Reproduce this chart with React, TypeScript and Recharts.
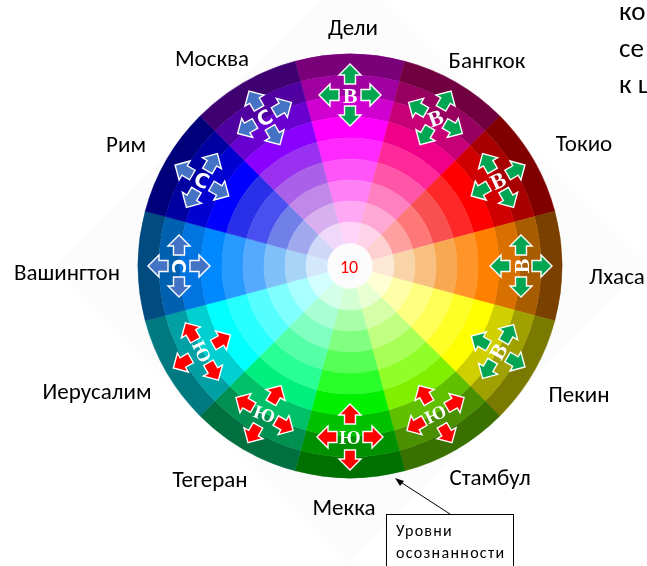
import { PieChart, Pie, Cell } from 'recharts'

const W = 647
const H = 566
const CX = 350
const CY = 266
const LABEL_FONT = "Carlito, Lato, 'Noto Sans', sans-serif"

// clockwise from the top
const cities = ['Дели', 'Бангкок', 'Токио', 'Лхаса', 'Пекин', 'Стамбул', 'Мекка', 'Тегеран', 'Иерусалим', 'Вашингтон', 'Рим', 'Москва']
const sectorShare = [1, 1, 1, 1, 1, 1, 1, 1, 1, 1, 1, 1]
const letters = ['В', 'В', 'В', 'В', 'В', 'Ю', 'Ю', 'Ю', 'Ю', 'С', 'С', 'С']
const levels = ['1', '2', '3', '4', '5', '6', '7', '8', '9']

// one row per sector, outer ring first
const delhi = ['#7a007a', '#a000a0', '#d000d0', '#ff00ff', '#ff28ff', '#ff55f8', '#ff80f4', '#ffa8f4', '#ffd4f8']
const bangkok = ['#700040', '#980060', '#c80078', '#f00088', '#ff2898', '#ff55a8', '#ff80c0', '#ffa8d4', '#ffd4e8']
const tokyo = ['#800000', '#a80000', '#d00000', '#ff0000', '#ff2828', '#f85050', '#ff7878', '#ffa0a0', '#ffd0d0']
const lhasa = ['#7a4000', '#a85c00', '#d87000', '#ff8000', '#ff9428', '#f8a850', '#f8c080', '#f8d4a8', '#fce8d4']
const beijing = ['#7a7a00', '#a0a000', '#d0d000', '#ffff00', '#ffff28', '#ffff55', '#ffff80', '#ffffa8', '#ffffd4']
const istanbul = ['#3a7000', '#4a9000', '#60c000', '#80f000', '#90ff28', '#a8ff55', '#c0ff80', '#d4ffa8', '#e8ffd4']
const mecca = ['#007000', '#009000', '#00c000', '#00f000', '#28ff28', '#55ff55', '#80ff80', '#a8ffa8', '#d4ffd4']
const tehran = ['#007040', '#009050', '#00c068', '#00f080', '#28ff94', '#55ffa8', '#80ffc0', '#a8ffd4', '#d4ffe8']
const jerusalem = ['#007a80', '#00a0a4', '#00d0d0', '#00ffff', '#28ffff', '#55ffff', '#80ffff', '#a8ffff', '#d4ffff']
const washington = ['#004c80', '#0060b0', '#0074e0', '#0088ff', '#2899ff', '#55aaff', '#80c0f8', '#a8d4f8', '#d4e8fc']
const rome = ['#00007a', '#0000a0', '#0000d0', '#0000ff', '#2a30e8', '#4a50f0', '#7080e8', '#a0a8ee', '#d0d8f8']
const moscow = ['#3f0070', '#5000a0', '#6800d0', '#8a00ff', '#9a30f0', '#aa60e8', '#c088e8', '#d8b0f0', '#f0d8fa']
const sectorColors = [delhi, bangkok, tokyo, lhasa, beijing, istanbul, mecca, tehran, jerusalem, washington, rome, moscow]

const letterTilt = [0, -20, -25, -90, -60, -25, 0, 20, 65, 90, 20, -30]
const arrowColor: Record<string, string> = { 'В': '#00a651', 'Ю': '#ff0000', 'С': '#4472c4' }

const cityPos = [
  [353, 27], [487, 60], [584, 143], [617, 276], [579, 394], [490, 477],
  [344, 507], [210, 479], [97, 391], [67, 272], [126, 144], [212, 58],
]
const levelPos = [
  [391, 463], [386, 443], [381, 424], [376, 400], [370, 383],
  [365, 363], [359, 341], [354, 320], [348, 301],
]

const wheelData = cities.map((name, i) => ({ name, share: sectorShare[i], letter: letters[i] }))
const RING_W = 21
const OUTER_R = 212

function ArrowCross(props: any) {
  const { cx, cy, midAngle, outerRadius, index } = props
  const rad = (midAngle * Math.PI) / 180
  const x = cx + outerRadius * Math.cos(rad)
  const y = cy - outerRadius * Math.sin(rad)
  const letter = letters[index]
  const extra = letter === 'Ю' ? 2 : 0
  return (
    <g>
      <g transform={`translate(${x},${y}) rotate(${90 - midAngle})`}>
        {[0, 90, 180, 270].map(r => (
          <path
            key={r}
            transform={`rotate(${r})`}
            d={`M-5.5,${-11 - extra} L5.5,${-11 - extra} L5.5,${-20 - extra} L11,${-20 - extra} L0,${-31 - extra} L-11,${-20 - extra} L-5.5,${-20 - extra} Z`}
            fill={arrowColor[letter]}
            stroke="#fff"
            strokeWidth={1.4}
          />
        ))}
      </g>
      <text
        transform={`translate(${x},${y}) rotate(${letterTilt[index]})`}
        textAnchor="middle"
        dominantBaseline="central"
        fontFamily={letter === 'С' ? "'DejaVu Sans', sans-serif" : "'Liberation Serif', serif"}
        fontWeight="bold"
        fontSize={letter === 'С' ? 20 : letter === 'Ю' ? 19 : 22}
        fill="#fff"
      >
        {letter}
      </text>
    </g>
  )
}

export default function App() {
  return (
    <div style={{ position: 'absolute', left: 0, top: 0, width: W, height: H, overflow: 'hidden', background: '#fff', filter: 'blur(0.35px)' }}>
      <PieChart width={W} height={H} margin={{ top: 0, right: 0, bottom: 0, left: 0 }}>
        {/* faint diamond left over behind the wheel */}
        <polygon points={`${CX},${CY - 297} ${CX + 297},${CY} ${CX},${CY + 297} ${CX - 297},${CY}`} fill="#fcfcfc" />

        {levels.map((lvl, ring) => (
          <Pie
            key={lvl}
            data={wheelData}
            dataKey="share"
            cx={CX}
            cy={CY}
            startAngle={105}
            endAngle={-255}
            innerRadius={OUTER_R - RING_W * (ring + 1)}
            outerRadius={OUTER_R - RING_W * ring}
            paddingAngle={0}
            isAnimationActive={false}
            label={false}
            labelLine={false}
          >
            {sectorColors.map((c, i) => (
              <Cell key={i} fill={c[ring]} stroke={c[ring]} strokeWidth={0.5} />
            ))}
          </Pie>
        ))}

        {/* invisible ring that only carries the arrow crosses */}
        <Pie
          data={wheelData}
          dataKey="share"
          cx={CX}
          cy={CY}
          startAngle={105}
          endAngle={-255}
          innerRadius={170}
          outerRadius={171}
          fill="none"
          stroke="none"
          isAnimationActive={false}
          labelLine={false}
          label={ArrowCross}
        />

        {cities.map((c, i) => (
          <text key={c} x={cityPos[i][0]} y={cityPos[i][1]} textAnchor="middle" dominantBaseline="central" fontFamily={LABEL_FONT} fontSize={23} fill="#000">
            {c}
          </text>
        ))}

        {levels.map((lvl, i) => (
          <text key={lvl} x={levelPos[i][0]} y={levelPos[i][1]} textAnchor="middle" dominantBaseline="central" fontFamily={LABEL_FONT} fontSize={18} fill="#f00">
            {lvl}
          </text>
        ))}
        <text x={349} y={267} textAnchor="middle" dominantBaseline="central" fontFamily={LABEL_FONT} fontSize={18} fill="#f00">10</text>

        <line x1={450} y1={514} x2={399} y2={481} stroke="#000" strokeWidth={1} />
        <polygon points="395,478 404,481 400,486" fill="#000" />
        <rect x={386.5} y={514.5} width={127} height={70} fill="#fff" stroke="#000" strokeWidth={1} />
        <text x={396} y={536} fontFamily={LABEL_FONT} fontSize={16} letterSpacing={1.2} fill="#000">Уровни</text>
        <text x={396} y={558} fontFamily={LABEL_FONT} fontSize={16} letterSpacing={1.3} fill="#000">осознанности</text>

        <text x={619} y={20} fontFamily={LABEL_FONT} fontSize={27} fill="#000">ко</text>
        <text x={619} y={57} fontFamily={LABEL_FONT} fontSize={27} fill="#000">се</text>
        <text x={619} y={93} fontFamily={LABEL_FONT} fontSize={27} fill="#000">к ц</text>
      </PieChart>
    </div>
  )
}
